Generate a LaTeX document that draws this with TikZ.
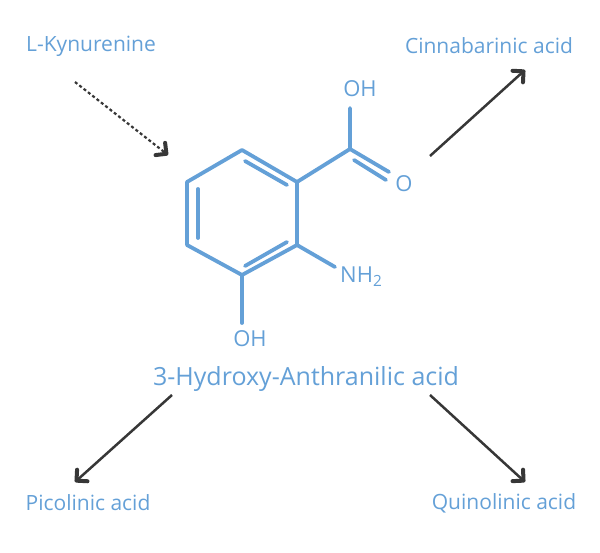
\documentclass[tikz,border=0pt]{standalone}
\usepackage{fontspec}
\setmainfont{Open Sans}
\usetikzlibrary{arrows.meta}
\definecolor{mblue}{RGB}{100,160,215}
\definecolor{adark}{RGB}{55,55,55}
\begin{document}
\begin{tikzpicture}[x=1pt,y=-1pt,
  bond/.style={mblue,line width=3.8pt,line cap=round,line join=round},
  atom/.style={mblue,font=\fontsize{22}{24}\selectfont,inner sep=0pt},
  lbl/.style={mblue,font=\fontsize{21}{24}\selectfont,inner sep=1pt},
  arr/.style={adark,line width=2.5pt,-{Straight Barb[angle=90:11pt,line width=4pt,round=false]}}]
\useasboundingbox (0,0) rectangle (600,553);
% ring
\coordinate (r1) at (242,150); \coordinate (r2) at (297,182);
\coordinate (r3) at (297,245); \coordinate (r4) at (242,275);
\coordinate (r5) at (187,245); \coordinate (r6) at (187,182);
\draw[bond] (r1)--(r2)--(r3)--(r4)--(r5)--(r6)--cycle;
\draw[bond] (245,161)--(287,185);
\draw[bond] (198,189)--(198,238);
\draw[bond] (287,242)--(245,266);
\coordinate (c) at (350,149);
\draw[bond] (r2)--(c)--(350,108);
\draw[bond] (c)--(389,172);
\draw[bond] (354,160)--(386,180);
\draw[bond] (r3)--(335,267);
\draw[bond] (r4)--(242,323);
\node[atom] (oh1) at (360,89) {OH};
\node[atom] (o) at (404,184) {O};
\node[atom,anchor=west] (nh2) at (340,277) {NH\textsubscript{2}};
\node[atom] (oh2) at (250,339) {OH};
% labels
\node[lbl] (lk) at (91,46) {L-Kynurenine};
\node[lbl] (ca) at (489,46) {Cinnabarinic acid};
\node[mblue,font=\fontsize{25}{28}\selectfont] (hz) at (306,379) {3-Hydroxy-Anthranilic acid};
\node[lbl] (pa) at (88,503) {Picolinic acid};
\node[lbl] (qa) at (504,503) {Quinolinic acid};
\coordinate (a1s) at (75,82); \coordinate (a1e) at (168,155);
\coordinate (a2s) at (430,156); \coordinate (a2e) at (525,70);
\coordinate (a3s) at (172,395); \coordinate (a3e) at (75,482);
\coordinate (a4s) at (430,395); \coordinate (a4e) at (525,482);
\draw[arr,line width=2.2pt,dash pattern=on 3pt off 2.5pt] (a1s)--(a1e);
\draw[arr] (a2s)--(a2e);
\draw[arr] (a3s)--(a3e);
\draw[arr] (a4s)--(a4e);
\end{tikzpicture}
\end{document}
